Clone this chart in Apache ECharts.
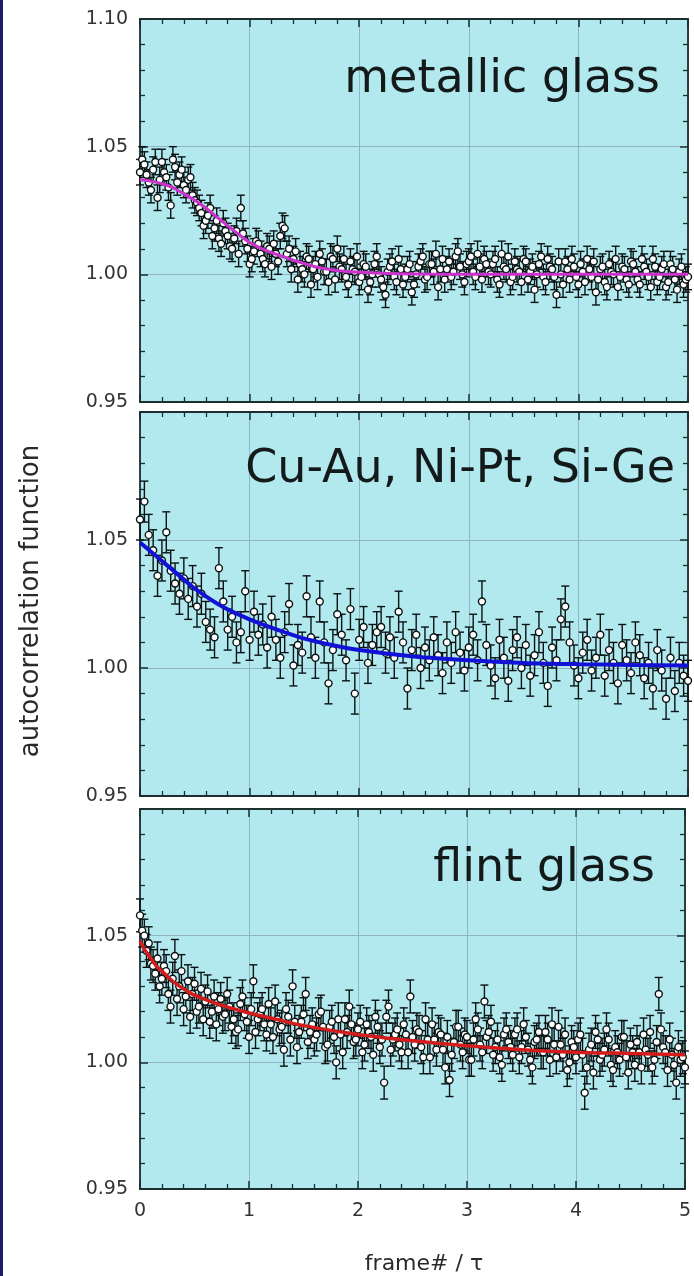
<!DOCTYPE html>
<html><head><meta charset="utf-8">
<script src="https://cdn.jsdelivr.net/npm/echarts@6/dist/echarts.min.js"></script>
<style>html,body{margin:0;padding:0;background:#fff}#c{width:694px;height:1276px}</style>
</head><body><div id="c"></div>
<script>
// ---------------- data ----------------
const panelTitles = ['metallic glass', 'Cu-Au, Ni-Pt, Si-Ge', 'flint glass'];
const xTitle = 'frame# / \u03c4';
const yTitle = 'autocorrelation function';
const xTickValues = [0, 1, 2, 3, 4, 5];
const yTickValues = [0.95, 1.00, 1.05, 1.10];
const frameStep = 0.04;   // spacing of measured frames along x
const frameOffsetB = 0.02; // second (interleaved) frame set starts here

const metallicValues = [
1.040,1.043,1.036,1.041,1.030,1.044,1.038,1.027,1.042,1.039,
1.035,1.037,1.031,1.028,1.024,1.021,1.026,1.018,1.014,1.020,
1.015,1.010,1.017,1.026,1.013,1.004,1.009,1.012,1.006,1.011,
1.003,1.008,1.015,1.018,1.010,1.006,0.998,1.002,1.007,0.996,
1.004,1.008,1.001,0.997,1.006,1.010,1.002,0.999,1.005,1.001,
0.997,1.004,0.994,1.000,1.007,0.998,0.992,1.003,0.999,1.006,
0.996,1.002,0.993,1.000,1.005,0.998,1.004,1.001,0.995,1.006,
1.002,0.999,1.007,1.003,0.997,1.005,1.001,1.008,0.998,1.004,
1.000,1.006,0.996,1.003,1.007,0.999,1.002,0.997,1.005,1.001,
0.994,1.004,0.999,1.006,1.002,0.992,1.000,1.005,0.998,1.003,
0.996,1.001,1.006,0.999,0.993,1.002,0.997,1.004,1.000,0.995,
1.003,0.998,1.005,1.001,0.996,1.003,0.999,1.006,0.997,1.002,
0.995,1.004,0.998,1.001,0.996,0.999];
const metallicValuesB = [
1.045,1.039,1.033,1.044,1.037,1.040,1.034,1.045,1.036,1.041,
1.033,1.038,1.029,1.026,1.019,1.023,1.015,1.021,1.012,1.017,
1.011,1.014,1.008,1.016,1.010,1.006,1.013,1.008,1.004,1.010,
1.012,1.005,1.019,1.008,1.002,1.009,1.004,1.000,1.006,1.002,
0.999,1.005,1.001,1.007,0.998,1.003,1.006,0.996,1.002,1.007,
0.999,1.003,0.997,1.004,1.000,0.995,1.001,1.005,0.997,1.002,
0.999,1.004,0.996,1.003,1.007,0.999,1.004,1.008,1.002,0.998,
1.005,1.001,1.009,1.000,1.004,1.007,0.999,1.003,1.006,1.001,
1.004,0.998,1.008,1.002,0.997,1.005,1.001,1.006,0.998,1.003,
1.000,1.007,0.997,1.003,0.999,1.005,0.996,1.002,1.006,0.999,
1.004,0.997,1.002,1.005,0.998,1.003,0.995,1.001,1.006,0.999,
1.002,0.996,1.004,0.998,1.006,1.001,0.995,1.003,0.999,1.004,
0.997,1.002,0.994,1.003,0.998];

const cuAuValues = [
1.058,1.065,1.052,1.046,1.036,1.042,1.053,1.038,1.033,1.029,
1.035,1.027,1.032,1.024,1.029,1.018,1.015,1.012,1.039,1.026,
1.015,1.020,1.010,1.014,1.030,1.011,1.022,1.013,1.017,1.008,
1.020,1.011,1.004,1.014,1.025,1.001,1.009,1.006,1.028,1.012,
1.004,1.026,1.010,0.994,1.007,1.021,1.013,1.003,1.023,0.990,
1.011,1.016,1.002,1.009,1.014,1.016,1.006,1.012,1.004,1.022,
1.010,0.992,1.007,1.013,1.000,1.008,1.003,1.012,1.005,0.998,
1.010,1.002,1.014,1.006,0.999,1.008,1.013,1.003,1.026,1.009,
1.001,0.996,1.011,1.004,0.995,1.007,1.012,1.000,1.009,0.997,
1.005,1.014,1.002,0.993,1.008,1.003,1.019,1.024,1.010,1.001,
0.996,1.006,1.011,0.999,1.004,1.013,0.997,1.007,1.002,0.994,
1.009,1.003,0.998,1.010,1.005,0.996,1.002,0.992,1.007,0.999,
0.988,1.004,0.991,1.002,0.997,0.995];

const flintValues = [
1.058,1.050,1.047,1.038,1.041,1.033,1.036,1.022,1.042,1.030,
1.021,1.032,1.027,1.020,1.029,1.024,1.016,1.026,1.021,1.018,
1.027,1.014,1.012,1.023,1.019,1.010,1.032,1.017,1.021,1.011,
1.015,1.024,1.013,1.005,1.018,1.030,1.006,1.016,1.027,1.012,
1.009,1.019,1.014,1.007,1.016,1.000,1.011,1.017,1.022,1.008,
1.013,1.004,1.015,1.010,1.018,1.006,0.992,1.022,1.009,1.013,
1.004,1.011,1.026,1.007,1.012,1.002,1.009,1.015,1.005,1.011,
0.998,0.993,1.008,1.014,1.004,1.010,1.001,1.017,1.007,1.024,
1.012,1.003,1.009,0.999,1.013,1.006,1.011,1.002,1.015,1.005,
0.998,1.009,1.004,1.012,1.001,1.007,1.014,1.003,0.997,1.008,
1.002,1.011,0.988,1.005,0.996,1.009,1.003,1.013,0.999,1.006,
1.001,1.010,0.996,1.004,1.008,0.998,1.005,1.012,1.001,1.027,
1.006,0.997,1.003,0.992,1.001,0.998];
const flintValuesB = [
1.052,1.044,1.039,1.035,1.030,1.038,1.027,1.033,1.025,1.036,
1.026,1.018,1.031,1.022,1.017,1.028,1.020,1.015,1.025,1.019,
1.022,1.017,1.013,1.026,1.016,1.021,1.012,1.019,1.015,1.023,
1.010,1.017,1.014,1.021,1.009,1.016,1.012,1.019,1.008,1.015,
1.011,1.020,1.006,1.014,1.010,1.017,1.004,1.012,1.015,1.009,
1.016,1.007,1.012,1.003,1.014,1.009,1.018,1.005,1.011,1.007,
1.015,1.004,1.010,1.013,1.006,1.017,1.002,1.009,1.012,1.005,
1.010,1.003,1.014,1.007,1.011,1.001,1.009,1.013,1.004,1.010,
1.016,1.006,1.002,1.011,1.008,1.003,1.013,1.006,1.010,1.001,
1.008,1.012,1.004,1.009,1.015,1.002,1.007,1.011,1.000,1.006,
1.009,1.003,0.998,1.007,1.012,1.001,1.005,1.009,0.997,1.004,
1.010,1.002,1.007,0.999,1.004,1.011,1.003,0.998,1.008,1.013,
1.004,1.009,0.999,1.006,1.002];

const errorHalfWidths = [0.005, 0.008, 0.0065];

const metallicFitX = [0, 0.1, 0.2, 0.3, 0.4, 0.5, 0.6, 0.7, 0.8, 0.9, 1.0, 1.1, 1.2, 1.3, 1.4, 1.5, 1.6, 1.8, 2.0, 2.3, 2.6, 3.0, 3.5, 4.0, 4.5, 5.0];
const metallicFitY = [1.037, 1.0365, 1.0355, 1.034, 1.0315, 1.029, 1.026, 1.0225, 1.019, 1.0157, 1.0125, 1.0103, 1.0085, 1.007, 1.0055, 1.0042, 1.003, 1.0015, 1.0008, 1.0003, 1.0001, 1.0, 1.0, 1.0, 1.0, 1.0];
const cuAuFitX = [0, 0.125, 0.25, 0.375, 0.5, 0.75, 1.0, 1.25, 1.5, 1.75, 2.0, 2.5, 3.0, 3.5, 4.0, 4.5, 5.0];
const cuAuFitY = [1.049, 1.0445, 1.040, 1.0355, 1.031, 1.024, 1.019, 1.015, 1.0115, 1.009, 1.007, 1.0045, 1.003, 1.002, 1.0015, 1.0012, 1.001];
const flintFitX = [0, 0.05, 0.1, 0.15, 0.2, 0.3, 0.4, 0.5, 0.75, 1.0, 1.25, 1.5, 2.0, 2.5, 3.0, 3.5, 4.0, 4.5, 5.0];
const flintFitY = [1.048, 1.044, 1.041, 1.038, 1.036, 1.032, 1.029, 1.0265, 1.0225, 1.0195, 1.017, 1.0145, 1.011, 1.0085, 1.0065, 1.005, 1.004, 1.0035, 1.003];

// ---------------- chart ----------------
const panelSets = [
  [[metallicValues, 0], [metallicValuesB, frameOffsetB]],
  [[cuAuValues, 0]],
  [[flintValues, 0], [flintValuesB, frameOffsetB]]
];
const panelFits = [[metallicFitX, metallicFitY], [cuAuFitX, cuAuFitY], [flintFitX, flintFitY]];
const fitColors = ['#cc33cc', '#1212d6', '#d41c1c'];
const fitWidths = [3, 4, 3.5];
const gridBoxes = [
  {top: 19, height: 383},
  {top: 412, height: 384},
  {top: 809, height: 380}
];
const FONT = 'DejaVu Sans';
const frameColor = '#1c2e2e';
const gridLineColor = '#8fb4c6';

const grids = [], xAxes = [], yAxes = [], series = [];
gridBoxes.forEach((g, p) => {
  grids.push({left: 140, width: 548, top: g.top, height: g.height, show: true,
    backgroundColor: '#b1e9ef', borderWidth: 0, containLabel: false});
  const tickCommon = {
    axisLine: {show: true, onZero: false, lineStyle: {color: frameColor, width: 1.8}},
    axisTick: {show: true, inside: true, length: 8, lineStyle: {color: frameColor, width: 1.5}},
    minorTick: {show: true, splitNumber: 5, length: 5, lineStyle: {color: frameColor, width: 1.3}}
  };
  xAxes.push(Object.assign({
    type: 'value', gridIndex: p, position: 'bottom', min: xTickValues[0], max: xTickValues[xTickValues.length - 1], interval: 1,
    axisLabel: {show: p === 2, color: '#333', fontFamily: FONT, fontSize: 19, margin: 13},
    splitLine: {show: true, lineStyle: {color: gridLineColor, width: 1}}
  }, tickCommon));
  xAxes.push(Object.assign({
    type: 'value', gridIndex: p, position: 'top', min: xTickValues[0], max: xTickValues[xTickValues.length - 1], interval: 1,
    axisLabel: {show: false}, splitLine: {show: false}
  }, tickCommon));
  yAxes.push(Object.assign({
    type: 'value', gridIndex: p, position: 'left', min: yTickValues[0], max: yTickValues[yTickValues.length - 1], interval: 0.05,
    axisLabel: {show: true, color: '#333', fontFamily: FONT, fontSize: 19, margin: 12,
      showMaxLabel: p === 0, formatter: v => v.toFixed(2)},
    splitLine: {show: true, lineStyle: {color: gridLineColor, width: 1}}
  }, tickCommon));
  yAxes.push(Object.assign({
    type: 'value', gridIndex: p, position: 'right', min: yTickValues[0], max: yTickValues[yTickValues.length - 1], interval: 0.05,
    axisLabel: {show: false}, splitLine: {show: false}
  }, tickCommon));

  const pts = [];
  panelSets[p].forEach(([vals, off]) => {
    vals.forEach((v, i) => pts.push([off + i * frameStep, v, errorHalfWidths[p]]));
  });
  pts.sort((a, b) => a[0] - b[0]);
  series.push({
    type: 'custom', xAxisIndex: p * 2, yAxisIndex: p * 2, z: 2, silent: true,
    data: pts,
    renderItem: function (params, api) {
      const x = api.value(0), y = api.value(1), e = api.value(2);
      const top = api.coord([x, y + e]);
      const bot = api.coord([x, y - e]);
      const cw = 4;
      const st = {stroke: '#0a1212', lineWidth: 1.4};
      return {type: 'group', children: [
        {type: 'line', shape: {x1: top[0], y1: top[1], x2: bot[0], y2: bot[1]}, style: st},
        {type: 'line', shape: {x1: top[0] - cw, y1: top[1], x2: top[0] + cw, y2: top[1]}, style: st},
        {type: 'line', shape: {x1: bot[0] - cw, y1: bot[1], x2: bot[0] + cw, y2: bot[1]}, style: st}
      ]};
    }
  });
  series.push({
    type: 'scatter', xAxisIndex: p * 2, yAxisIndex: p * 2, z: 3, silent: true,
    symbol: 'circle', symbolSize: 7,
    itemStyle: {color: '#ffffff', borderColor: '#0a1212', borderWidth: 1.4, opacity: 1},
    data: pts.map(d => [d[0], d[1]])
  });
  const fx = panelFits[p][0], fy = panelFits[p][1];
  series.push({
    type: 'line', xAxisIndex: p * 2, yAxisIndex: p * 2, z: 4, silent: true,
    smooth: 0.3, showSymbol: false, symbol: 'none',
    lineStyle: {color: fitColors[p], width: fitWidths[p]},
    data: fx.map((x, i) => [x, fy[i]])
  });
});

const titleCenters = [80, 470, 869];
const titleRights = [660, 675, 655];
const graphics = [
  {type: 'rect', shape: {x: 0, y: 0, width: 3, height: 1276}, style: {fill: '#1d1d66'}, z: 10},
  {type: 'text', x: 31, y: 601, rotation: Math.PI / 2, z: 10,
    style: {text: yTitle, fontFamily: FONT, fontSize: 26, fill: '#2a2a2a', align: 'center', verticalAlign: 'middle'}},
  {type: 'text', x: 424, y: 1264, z: 10,
    style: {text: xTitle, fontFamily: FONT, fontSize: 22, fill: '#2a2a2a', align: 'center', verticalAlign: 'middle'}}
];
panelTitles.forEach((t, p) => {
  graphics.push({type: 'text', x: titleRights[p], y: titleCenters[p], z: 10,
    style: {text: t, fontFamily: FONT, fontSize: 46, fill: '#141a1a', align: 'right', verticalAlign: 'middle'}});
});

const chart = echarts.init(document.getElementById('c'), null, {renderer: 'canvas'});
chart.setOption({
  animation: false,
  backgroundColor: '#ffffff',
  grid: grids, xAxis: xAxes, yAxis: yAxes, series: series, graphic: graphics
});
</script></body></html>
